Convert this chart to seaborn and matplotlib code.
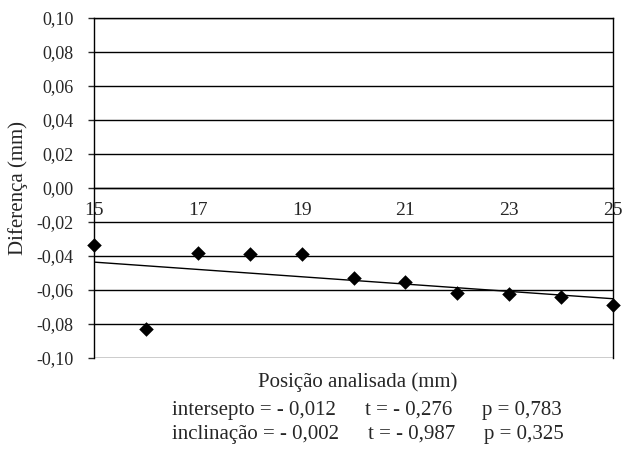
import numpy as np
import pandas as pd
import matplotlib
matplotlib.use("Agg")
import matplotlib.pyplot as plt
import seaborn as sns

# positions (mm) and measured differences (mm)
posicao = [15, 16, 17, 18, 19, 20, 21, 22, 23, 24, 25]
diferenca = [-0.0335, -0.083, -0.038, -0.039, -0.039, -0.053, -0.055, -0.062, -0.0625, -0.064, -0.069]

x_ticks = [15, 17, 19, 21, 23, 25]
y_ticks = [-0.10, -0.08, -0.06, -0.04, -0.02, 0.00, 0.02, 0.04, 0.06, 0.08, 0.10]

stats_lines = [
    ("intersepto = - 0,012", "t = - 0,276", "p = 0,783"),
    ("inclinação = - 0,002", "t = - 0,987", "p = 0,325"),
]

df = pd.DataFrame({"pos": posicao, "dif": diferenca})

sns.set_style("white")
plt.rcParams["font.family"] = ["Liberation Serif", "DejaVu Serif"]
plt.rcParams["font.size"] = 15

fig = plt.figure(figsize=(6.24, 4.5), dpi=100)
ax = fig.add_axes([94 / 624, 1 - 358 / 450, (613 - 94) / 624, (358 - 18) / 450])

sns.regplot(data=df, x="pos", y="dif", ax=ax, ci=None, marker="D", color="black",
            scatter_kws=dict(s=55, alpha=1, clip_on=False, zorder=5, linewidths=0),
            line_kws=dict(linewidth=1, color="black"))

ax.set_xlim(15, 25)
ax.set_ylim(-0.10, 0.10)
ax.set_yticks(y_ticks)
ax.set_yticklabels([f"{v:.2f}".replace(".", ",").replace("-0,00", "0,00") for v in y_ticks])
ax.set_xticks(x_ticks)
ax.set_xticklabels([str(v) for v in x_ticks])

for v in y_ticks:
    ax.axhline(v, color="black", linewidth=1, zorder=1)

for s in ["left", "right", "top"]:
    ax.spines[s].set_color("black")
    ax.spines[s].set_linewidth(1)
ax.spines["bottom"].set_position(("data", 0))
ax.spines["bottom"].set_linewidth(1)
ax.spines["bottom"].set_color("black")

ax.tick_params(axis="x", direction="inout", length=9, width=1, pad=5.5, labelsize=14)
ax.tick_params(axis="y", direction="out", length=4.5, width=1, pad=10, left=True, labelsize=13)

ax.set_xlabel("")
ax.set_ylabel("Diferença (mm)", fontsize=15)
ax.yaxis.set_label_coords(-(94 - 28) / 519, 0.5)

fig.text(358 / 624, 1 - 382 / 450, "Posição analisada (mm)", ha="center", va="center", fontsize=15)
for i, (a, b, c) in enumerate(stats_lines):
    yy = 1 - (410 + 24 * i) / 450
    fig.text(172 / 624, yy, a, ha="left", va="center", fontsize=15)
    fig.text((365 + 3 * i) / 624, yy, b, ha="left", va="center", fontsize=15)
    fig.text((482 + 2 * i) / 624, yy, c, ha="left", va="center", fontsize=15)

fig.savefig("out.png", dpi=100)
